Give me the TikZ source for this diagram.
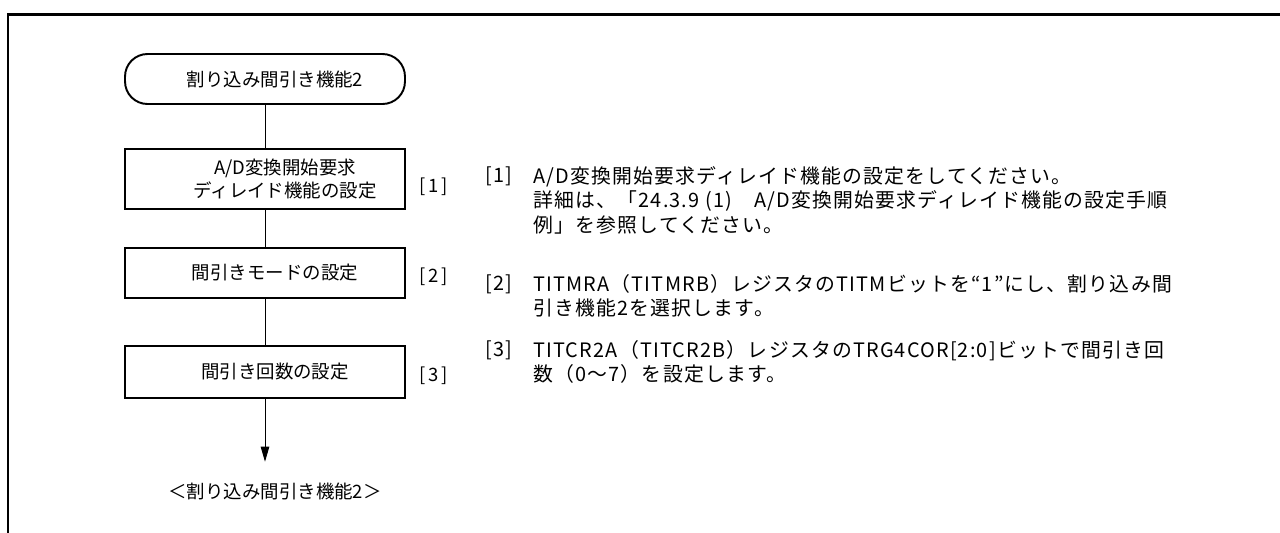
\documentclass[tikz,border=0pt]{standalone}
\usepackage{fontspec}
\setmainfont{Noto Sans CJK JP}
\newfontfamily\descfont[LetterSpace=6]{Noto Sans CJK JP}
\newcommand{\padl}{\hspace*{0.4cm}}
\usetikzlibrary{arrows.meta, positioning}

\begin{document}
\begin{tikzpicture}[x=0.02cm, y=-0.02cm,
  term/.style={rectangle, rounded corners=0.45cm, draw=black, line width=1.1pt,
              align=center, minimum width=5.6cm, minimum height=1.0cm,
              font=\fontsize{10.5}{13}\selectfont, inner sep=0pt,
              execute at begin node=\padl},
  box/.style={rectangle, draw=black, line width=1.1pt,
              align=center, minimum width=5.6cm,
              font=\fontsize{10.5}{13.4}\selectfont, inner sep=0pt,
              execute at begin node=\padl},
  tag/.style={font=\fontsize{10.5}{13}\selectfont, inner sep=0pt},
  desc/.style={font=\descfont\fontsize{11.3}{14}\selectfont, align=left,
              inner sep=0pt, anchor=north west},
  link/.style={line width=0.5pt},
  arr/.style={-{Triangle[length=0.3cm, width=0.17cm]}, line width=0.5pt}
]

\useasboundingbox (0,0) rectangle (1280,532);
\draw[line width=1.7pt] (8,540) -- (8,14.5) -- (1290,14.5);

\node[term] (start) at (265,79) {割り込み間引き機能2};
\node[box, execute at begin node={}, minimum height=1.2cm, below=0.86cm of start] (cfg)
  {\padl A/D変換開始要求\\\padl ディレイド機能の設定};
\node[box, minimum height=1.0cm, below=0.74cm of cfg] (mode) {間引きモードの設定};
\node[box, minimum height=1.04cm, below=0.92cm of mode] (cnt) {間引き回数の設定};
\coordinate[below=1.26cm of cnt] (end);
\node[tag, below=0.42cm of end, xshift=0.2cm] (endlbl) {＜割り込み間引き機能2＞};

\draw[link] (start) -- (cfg);
\draw[link] (cfg)   -- (mode);
\draw[link] (mode)  -- (cnt);
\draw[arr]  (cnt)   -- (end);

\node[tag, right=0.26cm of cfg, yshift=-0.16cm]  (t1) {[\,1\,]};
\node[tag, right=0.26cm of mode, yshift=-0.08cm] (t2) {[\,2\,]};
\node[tag, right=0.26cm of cnt, yshift=-0.08cm]  (t3) {[\,3\,]};

% descriptions
\node[desc] (d1) at (533,166)
  {A/D変換開始要求ディレイド機能の設定をしてください。\\
   詳細は、「24.3.9 (1)　A/D変換開始要求ディレイド機能の設定手順\\
   例」を参照してください。};
\node[desc] (d2) at (533,274)
  {TITMRA（TITMRB）レジスタのTITMビットを“1”にし、割り込み間\\
   引き機能2を選択します。};
\node[desc] (d3) at (533,340)
  {TITCR2A（TITCR2B）レジスタのTRG4COR[2:0]ビットで間引き回\\
   数（0〜7）を設定します。};

\node[desc, anchor=north east] (n1) at ([xshift=-0.4cm]d1.north west) {[1]};
\node[desc, anchor=north east] (n2) at ([xshift=-0.4cm]d2.north west) {[2]};
\node[desc, anchor=north east] (n3) at ([xshift=-0.4cm]d3.north west) {[3]};

\end{tikzpicture}
\end{document}
